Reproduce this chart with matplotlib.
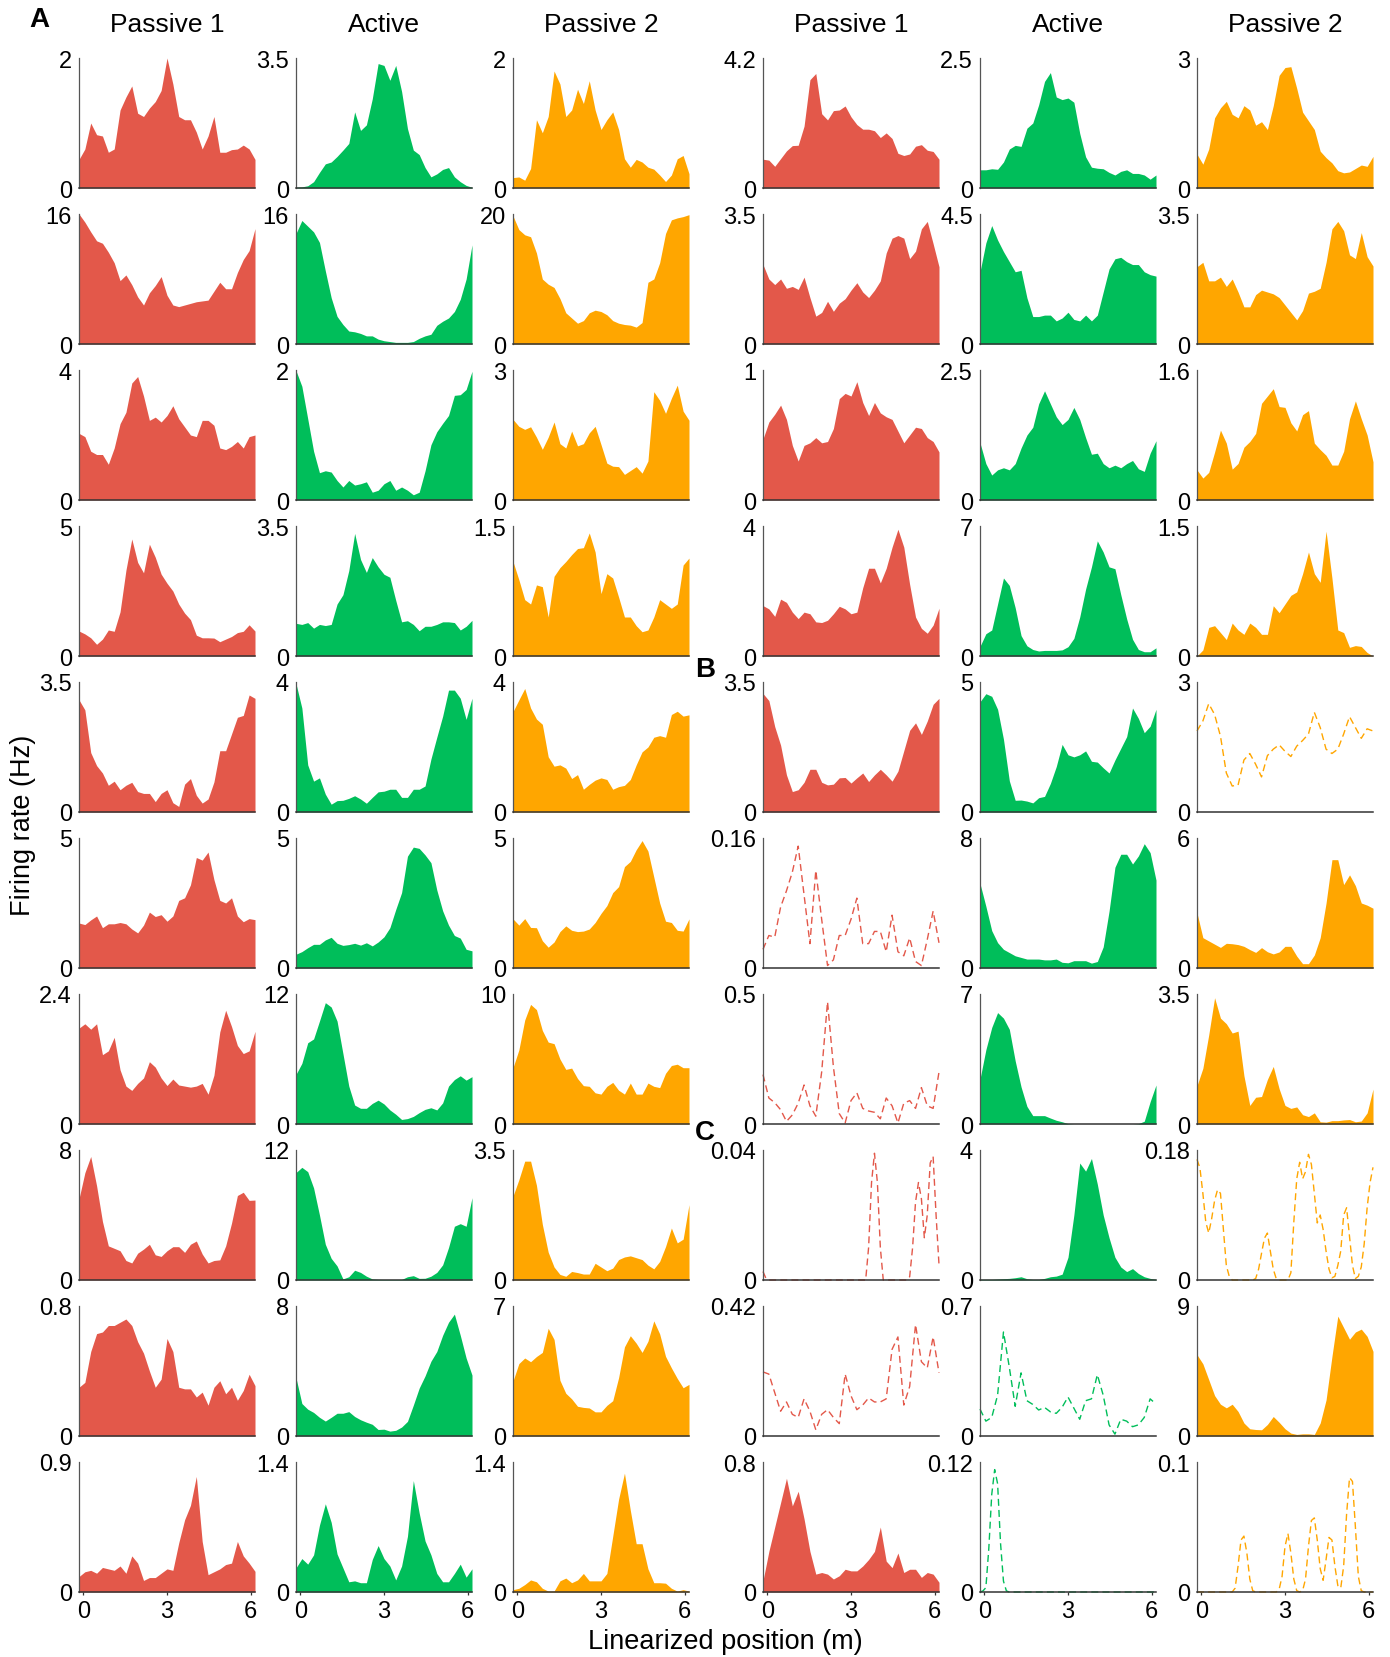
import numpy as np
import matplotlib.pyplot as plt

plt.rcParams['font.family'] = ['Liberation Sans', 'DejaVu Sans']

conditions = ['Passive 1', 'Active', 'Passive 2']
colors = ['#E3584A', '#00BE5A', '#FFA600']

# Firing rate (Hz) sampled evenly along the track, left block of cells
L1_p1 = [0.44, 0.6, 1.0, 0.82, 0.8, 0.55, 0.6, 1.2, 1.4, 1.57, 1.15, 1.1, 1.23, 1.33, 1.5, 2.0, 1.6, 1.1, 1.05, 1.05, 0.86, 0.6, 0.8, 1.1, 0.55, 0.55, 0.59, 0.6, 0.66, 0.6, 0.44]
L1_act = [0.02, 0.03, 0.06, 0.17, 0.42, 0.65, 0.7, 0.85, 1.02, 1.2, 2.05, 1.55, 1.7, 2.4, 3.35, 3.3, 2.9, 3.3, 2.6, 1.6, 1.02, 0.9, 0.55, 0.3, 0.38, 0.5, 0.55, 0.3, 0.17, 0.07, 0.02]
L1_p2 = [0.16, 0.17, 0.12, 0.3, 1.05, 0.85, 1.1, 1.8, 1.6, 1.1, 1.2, 1.52, 1.3, 1.65, 1.2, 0.9, 1.05, 1.17, 0.9, 0.45, 0.32, 0.44, 0.4, 0.32, 0.29, 0.2, 0.1, 0.2, 0.45, 0.5, 0.22]
L2_p1 = [16, 15.0, 13.8, 12.7, 12.4, 11.3, 10.0, 7.8, 8.5, 7.3, 5.8, 4.8, 6.3, 7.2, 8.3, 6.0, 4.8, 4.6, 4.8, 5.0, 5.2, 5.3, 5.4, 6.5, 7.6, 6.8, 6.8, 8.8, 10.4, 11.5, 14.2]
L2_act = [13.6, 15.2, 14.5, 13.8, 12.5, 9.0, 5.7, 3.4, 2.4, 1.6, 1.5, 1.3, 1.0, 1.0, 0.6, 0.4, 0.3, 0.2, 0.2, 0.2, 0.3, 0.7, 1.0, 1.2, 2.3, 2.8, 3.2, 4.0, 5.5, 8.0, 12.2]
L2_p2 = [19.7, 17.6, 16.8, 16.5, 14.0, 10.0, 9.2, 8.7, 7.0, 4.8, 4.0, 3.2, 3.6, 4.8, 5.2, 5.0, 4.5, 3.6, 3.2, 3.0, 2.9, 2.6, 3.3, 9.5, 10.0, 12.5, 17.0, 19.1, 19.4, 19.6, 19.9]
L3_p1 = [2.05, 1.95, 1.5, 1.4, 1.4, 1.1, 1.6, 2.35, 2.7, 3.6, 3.8, 3.2, 2.45, 2.55, 2.4, 2.6, 2.9, 2.5, 2.25, 2.0, 1.95, 2.45, 2.45, 2.3, 1.6, 1.55, 1.65, 1.8, 1.6, 1.95, 2.0]
L3_act = [1.99, 1.75, 1.25, 0.75, 0.42, 0.45, 0.43, 0.3, 0.2, 0.3, 0.23, 0.25, 0.28, 0.12, 0.15, 0.25, 0.3, 0.15, 0.2, 0.15, 0.08, 0.12, 0.45, 0.85, 1.05, 1.18, 1.3, 1.61, 1.62, 1.7, 1.98]
L3_p2 = [1.86, 1.7, 1.63, 1.69, 1.45, 1.17, 1.45, 1.8, 1.3, 1.2, 1.59, 1.25, 1.3, 1.55, 1.7, 1.28, 0.85, 0.78, 0.77, 0.59, 0.68, 0.77, 0.62, 0.9, 2.5, 2.3, 2.0, 2.35, 2.65, 2.05, 1.84]
L4_p1 = [0.96, 0.85, 0.7, 0.45, 0.65, 1.0, 0.95, 1.7, 3.3, 4.5, 3.6, 3.2, 4.3, 3.8, 3.15, 2.8, 2.5, 2.0, 1.65, 1.4, 0.8, 0.7, 0.7, 0.69, 0.55, 0.65, 0.75, 0.9, 0.95, 1.2, 0.96]
L4_act = [0.88, 0.85, 0.9, 0.75, 0.85, 0.82, 0.85, 1.4, 1.65, 2.3, 3.3, 2.6, 2.25, 2.65, 2.4, 2.2, 2.12, 1.5, 0.92, 0.95, 0.85, 0.68, 0.8, 0.8, 0.85, 0.92, 0.92, 0.9, 0.7, 0.8, 0.96]
L4_p2 = [1.09, 0.88, 0.65, 0.6, 0.82, 0.8, 0.45, 0.92, 1.02, 1.09, 1.17, 1.24, 1.25, 1.42, 1.2, 0.72, 0.95, 0.9, 0.68, 0.45, 0.45, 0.35, 0.28, 0.3, 0.45, 0.65, 0.6, 0.55, 0.6, 1.05, 1.13]
L5_p1 = [3.02, 2.75, 1.6, 1.25, 1.05, 0.72, 0.83, 0.6, 0.72, 0.8, 0.55, 0.5, 0.5, 0.28, 0.5, 0.6, 0.25, 0.15, 0.75, 0.9, 0.45, 0.24, 0.35, 0.81, 1.65, 1.65, 2.1, 2.55, 2.6, 3.15, 3.06]
L5_act = [3.95, 3.2, 1.45, 0.95, 1.05, 0.55, 0.24, 0.35, 0.36, 0.42, 0.5, 0.4, 0.27, 0.45, 0.62, 0.64, 0.7, 0.7, 0.45, 0.45, 0.7, 0.7, 0.8, 1.63, 2.3, 2.95, 3.75, 3.75, 3.5, 2.85, 3.5]
L5_p2 = [3.09, 3.45, 3.8, 3.2, 2.86, 2.7, 1.7, 1.41, 1.45, 1.35, 1.03, 1.15, 0.7, 0.85, 0.98, 1.05, 1.0, 0.7, 0.78, 0.82, 1.0, 1.45, 1.85, 2.0, 2.3, 2.35, 2.3, 3.0, 3.1, 2.95, 2.99]
L6_p1 = [1.73, 1.67, 1.85, 2.0, 1.55, 1.7, 1.7, 1.75, 1.7, 1.5, 1.35, 1.65, 2.15, 1.98, 2.05, 1.8, 2.0, 2.6, 2.7, 3.2, 4.25, 4.15, 4.46, 3.4, 2.6, 2.5, 2.7, 2.0, 1.78, 1.9, 1.86]
L6_act = [0.53, 0.63, 0.78, 0.91, 0.91, 1.08, 1.18, 0.95, 0.87, 0.9, 0.95, 0.88, 0.97, 0.85, 1.0, 1.2, 1.55, 2.25, 2.9, 4.3, 4.65, 4.6, 4.35, 4.05, 3.0, 2.2, 1.65, 1.25, 1.15, 0.72, 0.66]
L6_p2 = [1.89, 1.65, 1.9, 1.56, 1.55, 1.05, 0.8, 1.0, 1.4, 1.62, 1.45, 1.4, 1.42, 1.5, 1.75, 2.1, 2.4, 2.9, 3.13, 3.9, 4.1, 4.55, 4.9, 4.5, 3.5, 2.5, 1.8, 1.75, 1.45, 1.42, 1.89]
L7_p1 = [1.77, 1.85, 1.75, 1.85, 1.28, 1.35, 1.6, 1.0, 0.7, 0.62, 0.75, 0.85, 1.15, 1.05, 0.85, 0.71, 0.83, 0.72, 0.7, 0.68, 0.7, 0.75, 0.55, 0.9, 1.7, 2.1, 1.8, 1.45, 1.3, 1.35, 1.71]
L7_act = [4.58, 5.6, 7.5, 7.85, 9.5, 11.2, 10.8, 9.5, 6.5, 3.5, 1.75, 1.45, 1.45, 1.9, 2.2, 1.85, 1.3, 0.9, 0.42, 0.5, 0.7, 1.05, 1.35, 1.5, 1.3, 1.95, 3.5, 4.1, 4.45, 4.05, 4.37]
L7_p2 = [4.33, 5.7, 8.0, 9.2, 8.8, 7.2, 6.3, 6.18, 5.0, 4.2, 4.3, 3.5, 2.95, 2.9, 2.4, 2.3, 2.9, 3.2, 2.6, 2.3, 3.15, 2.3, 2.3, 3.15, 2.9, 2.8, 3.9, 4.5, 4.6, 4.33, 4.33]
L8_p1 = [5.0, 6.6, 7.6, 5.8, 3.6, 2.1, 1.95, 1.8, 1.2, 1.05, 1.65, 1.9, 2.2, 1.55, 1.45, 1.8, 2.05, 2.05, 1.7, 2.2, 2.4, 1.6, 1.05, 1.2, 1.24, 2.1, 3.5, 5.2, 5.4, 4.9, 4.92]
L8_act = [9.92, 10.4, 10.0, 8.5, 6.0, 3.3, 2.0, 1.3, 0.1, 0.3, 0.9, 0.7, 0.35, 0.1, 0.06, 0.05, 0.05, 0.05, 0.05, 0.3, 0.4, 0.15, 0.16, 0.35, 0.7, 1.4, 3.0, 4.96, 5.2, 4.96, 7.6]
L8_p2 = [2.26, 2.7, 3.2, 3.2, 2.55, 1.5, 0.75, 0.35, 0.15, 0.1, 0.23, 0.2, 0.16, 0.16, 0.45, 0.35, 0.25, 0.32, 0.55, 0.62, 0.65, 0.6, 0.55, 0.4, 0.3, 0.5, 0.9, 1.4, 1.0, 1.1, 2.03]
L9_p1 = [0.3, 0.33, 0.52, 0.63, 0.64, 0.68, 0.68, 0.7, 0.72, 0.68, 0.58, 0.51, 0.4, 0.3, 0.35, 0.6, 0.52, 0.3, 0.29, 0.29, 0.24, 0.27, 0.19, 0.3, 0.34, 0.26, 0.3, 0.22, 0.28, 0.38, 0.31]
L9_act = [3.58, 2.0, 1.65, 1.45, 1.15, 0.92, 1.15, 1.4, 1.4, 1.5, 1.2, 1.0, 0.85, 0.72, 0.4, 0.42, 0.3, 0.35, 0.55, 0.9, 1.9, 2.95, 3.7, 4.6, 5.2, 6.2, 7.0, 7.5, 6.2, 4.8, 3.75]
L9_p2 = [2.96, 3.9, 4.2, 4.0, 4.28, 4.5, 5.8, 5.2, 3.0, 2.3, 2.0, 1.6, 1.54, 1.51, 1.3, 1.3, 1.65, 1.9, 3.14, 4.8, 5.4, 5.0, 4.5, 5.1, 6.2, 5.5, 4.29, 3.67, 3.1, 2.6, 2.78]
L10_p1 = [0.107, 0.14, 0.15, 0.13, 0.17, 0.16, 0.15, 0.18, 0.13, 0.25, 0.2, 0.08, 0.1, 0.1, 0.13, 0.16, 0.15, 0.34, 0.5, 0.6, 0.8, 0.35, 0.12, 0.14, 0.16, 0.19, 0.2, 0.35, 0.25, 0.2, 0.143]
L10_act = [0.26, 0.36, 0.3, 0.4, 0.72, 0.95, 0.75, 0.41, 0.26, 0.11, 0.12, 0.1, 0.1, 0.35, 0.5, 0.36, 0.28, 0.13, 0.28, 0.6, 1.2, 0.85, 0.55, 0.4, 0.2, 0.11, 0.11, 0.2, 0.3, 0.16, 0.25]
L10_p2 = [0.025, 0.04, 0.08, 0.13, 0.11, 0.04, 0.01, 0.01, 0.12, 0.15, 0.1, 0.13, 0.2, 0.12, 0.12, 0.12, 0.2, 0.6, 1.0, 1.28, 0.88, 0.52, 0.52, 0.25, 0.1, 0.1, 0.095, 0.04, 0.01, 0.025, 0.01]

# right block of cells
R1_p1 = [0.93, 0.9, 0.7, 0.95, 1.2, 1.37, 1.38, 2.0, 3.5, 3.7, 2.4, 2.2, 2.5, 2.52, 2.65, 2.3, 2.05, 1.9, 1.9, 1.85, 1.63, 1.78, 1.6, 1.12, 1.05, 1.1, 1.35, 1.4, 1.22, 1.18, 0.93]
R1_act = [0.35, 0.35, 0.37, 0.36, 0.5, 0.75, 0.82, 0.8, 1.15, 1.25, 1.6, 2.05, 2.22, 1.75, 1.7, 1.73, 1.65, 1.05, 0.6, 0.4, 0.38, 0.37, 0.3, 0.25, 0.32, 0.35, 0.28, 0.28, 0.25, 0.17, 0.25]
R1_p2 = [0.78, 0.55, 0.9, 1.62, 1.85, 2.0, 1.7, 1.62, 1.9, 1.8, 1.45, 1.53, 1.35, 1.9, 2.6, 2.78, 2.8, 2.3, 1.75, 1.55, 1.35, 0.85, 0.7, 0.58, 0.4, 0.35, 0.37, 0.45, 0.53, 0.5, 0.73]
R2_p1 = [2.14, 1.75, 1.6, 1.75, 1.5, 1.55, 1.47, 1.8, 1.25, 0.75, 0.85, 1.15, 0.88, 1.1, 1.22, 1.45, 1.65, 1.4, 1.25, 1.45, 1.7, 2.45, 2.85, 2.92, 2.85, 2.3, 2.5, 3.1, 3.3, 2.7, 2.08]
R2_act = [2.5, 3.5, 4.1, 3.6, 3.2, 2.85, 2.5, 2.55, 1.6, 0.95, 0.95, 1.0, 1.0, 0.8, 0.9, 1.1, 0.85, 0.8, 1.0, 0.8, 1.0, 1.8, 2.6, 2.95, 3.0, 2.85, 2.75, 2.75, 2.5, 2.4, 2.35]
R2_p2 = [2.08, 2.2, 1.7, 1.7, 1.8, 1.55, 1.75, 1.4, 1.0, 1.0, 1.33, 1.45, 1.4, 1.35, 1.25, 1.05, 0.85, 0.65, 0.9, 1.37, 1.42, 1.5, 2.2, 3.1, 3.3, 3.05, 2.4, 2.3, 3.0, 2.35, 2.1]
R3_p1 = [0.47, 0.6, 0.66, 0.73, 0.62, 0.42, 0.3, 0.42, 0.44, 0.48, 0.44, 0.45, 0.55, 0.78, 0.82, 0.8, 0.91, 0.75, 0.65, 0.75, 0.67, 0.64, 0.62, 0.53, 0.44, 0.5, 0.56, 0.55, 0.48, 0.45, 0.37]
R3_act = [1.1, 0.7, 0.48, 0.58, 0.62, 0.58, 0.7, 1.0, 1.25, 1.4, 1.85, 2.1, 1.85, 1.6, 1.45, 1.55, 1.78, 1.55, 1.2, 0.88, 0.9, 0.7, 0.62, 0.67, 0.62, 0.7, 0.76, 0.6, 0.55, 0.9, 1.14]
R3_p2 = [0.37, 0.27, 0.34, 0.59, 0.86, 0.7, 0.38, 0.45, 0.65, 0.72, 0.82, 1.19, 1.28, 1.37, 1.15, 1.14, 0.95, 0.85, 1.05, 1.1, 0.7, 0.62, 0.55, 0.43, 0.43, 0.6, 1.0, 1.22, 1.0, 0.8, 0.47]
R4_p1 = [1.55, 1.45, 1.22, 1.75, 1.65, 1.35, 1.15, 1.35, 1.3, 1.05, 1.03, 1.1, 1.3, 1.53, 1.45, 1.3, 1.35, 2.1, 2.7, 2.7, 2.25, 2.7, 3.35, 3.9, 3.35, 2.2, 1.2, 0.85, 0.7, 0.95, 1.47]
R4_act = [0.52, 1.2, 1.4, 2.8, 4.2, 3.8, 2.6, 1.1, 0.55, 0.35, 0.27, 0.3, 0.3, 0.3, 0.33, 0.5, 0.95, 2.1, 3.6, 4.8, 6.2, 5.6, 4.8, 4.7, 3.3, 2.0, 0.9, 0.35, 0.23, 0.23, 0.44]
R4_p2 = [0.0, 0.07, 0.33, 0.35, 0.27, 0.19, 0.38, 0.3, 0.25, 0.38, 0.33, 0.25, 0.25, 0.58, 0.5, 0.6, 0.7, 0.74, 0.95, 1.2, 0.95, 0.85, 1.44, 0.9, 0.3, 0.27, 0.1, 0.12, 0.11, 0.04, 0.0]
R5_p1 = [3.19, 3.0, 2.3, 1.8, 1.0, 0.55, 0.6, 0.8, 1.15, 1.15, 0.8, 0.73, 0.75, 0.92, 0.93, 0.78, 0.92, 1.05, 0.82, 1.0, 1.15, 1.0, 0.83, 1.1, 1.65, 2.2, 2.4, 2.09, 2.45, 2.9, 3.06]
R5_act = [4.24, 4.55, 4.45, 3.95, 2.8, 1.2, 0.45, 0.46, 0.42, 0.35, 0.55, 0.6, 1.1, 1.75, 2.6, 2.2, 2.12, 2.2, 2.35, 1.95, 1.92, 1.7, 1.5, 2.0, 2.45, 2.9, 4.0, 3.6, 3.05, 3.3, 3.95]
R5_p2 = [1.87, 2.1, 2.5, 2.25, 1.75, 0.9, 0.6, 0.62, 1.2, 1.35, 1.1, 0.81, 1.3, 1.45, 1.55, 1.4, 1.28, 1.52, 1.65, 1.8, 2.3, 1.95, 1.45, 1.35, 1.45, 1.8, 2.2, 1.95, 1.7, 1.92, 1.87]
R6_p1 = [0.023, 0.04, 0.038, 0.075, 0.095, 0.118, 0.15, 0.09, 0.03, 0.12, 0.06, 0.003, 0.01, 0.04, 0.04, 0.06, 0.086, 0.03, 0.03, 0.045, 0.045, 0.02, 0.065, 0.02, 0.015, 0.037, 0.008, 0.003, 0.035, 0.07, 0.031]
R6_act = [5.2, 3.8, 2.3, 1.56, 1.15, 0.95, 0.75, 0.65, 0.55, 0.55, 0.55, 0.5, 0.5, 0.55, 0.35, 0.32, 0.45, 0.45, 0.45, 0.3, 0.4, 1.3, 3.5, 6.2, 7.0, 7.0, 6.4, 6.9, 7.65, 7.1, 5.41]
R6_p2 = [2.54, 1.4, 1.25, 1.1, 0.95, 1.14, 1.12, 1.08, 1.0, 0.85, 0.72, 0.94, 0.75, 0.65, 0.74, 1.0, 1.0, 0.55, 0.2, 0.2, 0.6, 1.4, 3.0, 5.0, 5.0, 3.85, 4.3, 3.8, 3.0, 2.9, 2.76]
R7_p1 = [0.19, 0.1, 0.082, 0.055, 0.01, 0.035, 0.08, 0.15, 0.07, 0.03, 0.2, 0.47, 0.22, 0.04, 0.004, 0.09, 0.12, 0.06, 0.05, 0.045, 0.02, 0.1, 0.07, 0.004, 0.08, 0.09, 0.06, 0.14, 0.07, 0.06, 0.2]
R7_act = [2.42, 4.0, 5.2, 6.0, 5.7, 5.1, 3.4, 2.0, 0.95, 0.45, 0.45, 0.45, 0.32, 0.2, 0.12, 0.02, 0, 0, 0, 0, 0, 0, 0, 0, 0, 0, 0, 0.02, 0.15, 1.2, 2.1]
R7_p2 = [1.03, 1.5, 2.4, 3.4, 2.85, 2.7, 2.45, 2.5, 1.3, 0.5, 0.72, 0.74, 1.2, 1.55, 0.95, 0.5, 0.42, 0.46, 0.25, 0.2, 0.3, 0.06, 0.05, 0.09, 0.09, 0.11, 0.12, 0.06, 0.08, 0.3, 0.94]
R8_p1 = [0.0026, 0.0005, 0, 0, 0, 0, 0, 0, 0, 0, 0, 0, 0, 0, 0, 0, 0, 0, 0, 0, 0, 0, 0, 0, 0, 0, 0, 0, 0, 0, 0, 0, 0, 0, 0, 0, 0.01, 0.03, 0.039, 0.03, 0.01, 0, 0, 0, 0, 0, 0, 0, 0, 0, 0.001, 0.01, 0.024, 0.03, 0.025, 0.013, 0.02, 0.036, 0.038, 0.02, 0.0047]
R8_act = [0.02, 0.02, 0.02, 0.03, 0.04, 0.05, 0.07, 0.1, 0.04, 0.02, 0.02, 0.05, 0.1, 0.12, 0.18, 0.7, 2.0, 3.6, 3.35, 3.74, 2.95, 2.0, 1.3, 0.7, 0.4, 0.26, 0.35, 0.2, 0.1, 0.05, 0.02]
R8_p2 = [0.167, 0.155, 0.12, 0.08, 0.065, 0.085, 0.11, 0.125, 0.12, 0.07, 0.02, 0.005, 0, 0, 0, 0, 0, 0, 0, 0, 0.002, 0.015, 0.037, 0.058, 0.065, 0.04, 0.015, 0.002, 0, 0, 0, 0, 0.01, 0.08, 0.14, 0.163, 0.14, 0.15, 0.174, 0.16, 0.12, 0.079, 0.09, 0.07, 0.04, 0.015, 0.003, 0.005, 0.02, 0.04, 0.09, 0.1, 0.06, 0.02, 0.002, 0.005, 0.018, 0.05, 0.1, 0.135, 0.156]
R9_p1 = [0.207, 0.2, 0.14, 0.08, 0.11, 0.07, 0.06, 0.12, 0.08, 0.02, 0.07, 0.085, 0.06, 0.04, 0.2, 0.13, 0.085, 0.1, 0.123, 0.11, 0.11, 0.12, 0.28, 0.32, 0.1, 0.16, 0.36, 0.24, 0.22, 0.32, 0.204]
R9_act = [0.145, 0.08, 0.1, 0.22, 0.56, 0.37, 0.16, 0.34, 0.19, 0.17, 0.14, 0.154, 0.13, 0.122, 0.155, 0.21, 0.15, 0.09, 0.19, 0.2, 0.33, 0.22, 0.06, 0.01, 0.09, 0.08, 0.05, 0.06, 0.1, 0.2, 0.172]
R9_p2 = [5.63, 5.0, 3.9, 2.8, 2.2, 1.95, 2.2, 1.7, 0.9, 0.5, 0.45, 0.43, 0.8, 1.35, 0.95, 0.5, 0.2, 0.11, 0.15, 0.15, 0.11, 0.9, 2.5, 5.5, 8.3, 7.5, 6.7, 7.2, 7.4, 6.9, 5.86]
R10_p1 = [0.07, 0.25, 0.4, 0.55, 0.7, 0.53, 0.62, 0.45, 0.25, 0.11, 0.12, 0.11, 0.08, 0.1, 0.14, 0.13, 0.13, 0.16, 0.2, 0.25, 0.4, 0.19, 0.15, 0.24, 0.12, 0.14, 0.14, 0.09, 0.12, 0.11, 0.06]
R10_act = [0.0, 0.001, 0.004, 0.04, 0.09, 0.113, 0.1, 0.045, 0.01, 0.001, 0, 0, 0, 0, 0, 0, 0, 0, 0, 0, 0, 0, 0, 0, 0, 0, 0, 0, 0, 0, 0, 0, 0, 0, 0, 0, 0, 0, 0, 0, 0, 0, 0, 0, 0, 0, 0, 0, 0, 0, 0, 0, 0, 0, 0, 0, 0, 0, 0, 0, 0]
R10_p2 = [0, 0, 0, 0, 0, 0, 0, 0, 0, 0, 0, 0, 0, 0.003, 0.02, 0.04, 0.043, 0.03, 0.01, 0.001, 0, 0, 0, 0, 0, 0, 0, 0, 0.002, 0.012, 0.035, 0.045, 0.03, 0.01, 0.001, 0, 0.001, 0.01, 0.035, 0.055, 0.057, 0.04, 0.018, 0.009, 0.025, 0.042, 0.04, 0.02, 0.005, 0.003, 0.02, 0.06, 0.088, 0.085, 0.05, 0.012, 0.001, 0, 0, 0, 0]

left_rows = [[L1_p1, L1_act, L1_p2], [L2_p1, L2_act, L2_p2], [L3_p1, L3_act, L3_p2],
             [L4_p1, L4_act, L4_p2], [L5_p1, L5_act, L5_p2], [L6_p1, L6_act, L6_p2],
             [L7_p1, L7_act, L7_p2], [L8_p1, L8_act, L8_p2], [L9_p1, L9_act, L9_p2],
             [L10_p1, L10_act, L10_p2]]
right_rows = [[R1_p1, R1_act, R1_p2], [R2_p1, R2_act, R2_p2], [R3_p1, R3_act, R3_p2],
              [R4_p1, R4_act, R4_p2], [R5_p1, R5_act, R5_p2], [R6_p1, R6_act, R6_p2],
              [R7_p1, R7_act, R7_p2], [R8_p1, R8_act, R8_p2], [R9_p1, R9_act, R9_p2],
              [R10_p1, R10_act, R10_p2]]

left_ymax = [['2', '3.5', '2'], ['16', '16', '20'], ['4', '2', '3'], ['5', '3.5', '1.5'],
             ['3.5', '4', '4'], ['5', '5', '5'], ['2.4', '12', '10'], ['8', '12', '3.5'],
             ['0.8', '8', '7'], ['0.9', '1.4', '1.4']]
right_ymax = [['4.2', '2.5', '3'], ['3.5', '4.5', '3.5'], ['1', '2.5', '1.6'], ['4', '7', '1.5'],
              ['3.5', '5', '3'], ['0.16', '8', '6'], ['0.5', '7', '3.5'], ['0.04', '4', '0.18'],
              ['0.42', '0.7', '9'], ['0.8', '0.12', '0.1']]
# cells drawn as dashed lines (row, condition) in the right block
right_dashed = [(4, 2), (5, 0), (6, 0), (7, 0), (7, 2), (8, 0), (8, 1), (9, 1), (9, 2)]

W, H = 1390, 1658
fig = plt.figure(figsize=(W / 100, H / 100), dpi=100)

col_left = [79, 296, 513, 763, 980, 1197]
ax_w, ax_h = 176, 130
row_top0, row_step = 59, 156
tick_fs = 17


def draw_panel(ax, y, color, ymax_label, dashed, bottom):
    x = np.linspace(-0.15, 6.15, len(y))
    if dashed:
        ax.plot(x, y, color=color, lw=1.0, ls=(0, (5, 3)), clip_on=False)
    else:
        ax.fill_between(x, 0, y, color=color, linewidth=0)
    ax.set_xlim(-0.15, 6.15)
    ax.set_ylim(0, float(ymax_label))
    ax.set_yticks([0, float(ymax_label)])
    ax.set_yticklabels(['0', ymax_label])
    for s in ['top', 'right']:
        ax.spines[s].set_visible(False)
    ax.spines['left'].set_color('#555555')
    ax.spines['left'].set_linewidth(0.9)
    ax.spines['bottom'].set_color('#333333')
    ax.spines['bottom'].set_linewidth(1.1)
    ax.tick_params(axis='y', length=0, labelsize=tick_fs, pad=5)
    if bottom:
        ax.set_xticks([0, 3, 6])
        ax.set_xticklabels(['0', '3', '6'])
        ax.tick_params(axis='x', length=2.5, width=0.9, color='#333333',
                       labelsize=tick_fs, pad=3)
    else:
        ax.set_xticks([])


for block, (rows, ymaxes) in enumerate([(left_rows, left_ymax), (right_rows, right_ymax)]):
    for r in range(10):
        top = row_top0 + r * row_step
        for c in range(3):
            left = col_left[block * 3 + c]
            ax = fig.add_axes([left / W, 1 - (top + ax_h) / H, ax_w / W, ax_h / H])
            dashed = block == 1 and (r, c) in right_dashed
            draw_panel(ax, rows[r][c], colors[c], ymaxes[r][c], dashed, r == 9)

for block in range(2):
    for c in range(3):
        cx = (col_left[block * 3 + c] + ax_w / 2) / W
        fig.text(cx, 1 - 25 / H, conditions[c], ha='center', va='center', fontsize=19)

fig.text(39 / W, 1 - 20 / H, 'A', ha='center', va='center', fontsize=20, fontweight='bold')
fig.text(705 / W, 1 - 670 / H, 'B', ha='center', va='center', fontsize=20, fontweight='bold')
fig.text(705 / W, 1 - 1133 / H, 'C', ha='center', va='center', fontsize=20, fontweight='bold')

fig.text(23 / W, 1 - 825 / H, 'Firing rate (Hz)', rotation=90, ha='center', va='center', fontsize=19.5)
fig.text(725 / W, 1 - 1642 / H, 'Linearized position (m)', ha='center', va='center', fontsize=19.5)

fig.savefig('out.png', dpi=100)
